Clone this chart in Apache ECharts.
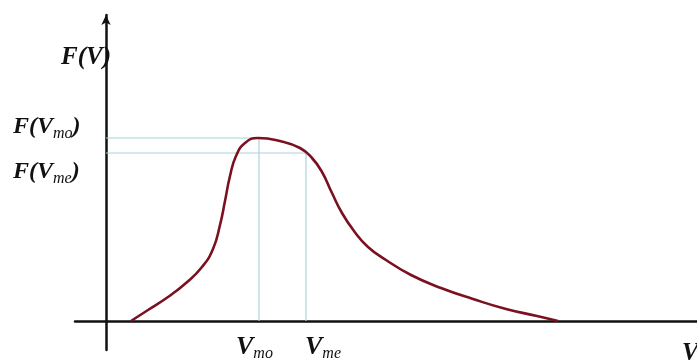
<!DOCTYPE html>
<html><head><meta charset="utf-8">
<script src="https://cdn.jsdelivr.net/npm/echarts@6/dist/echarts.min.js"></script>
<style>html,body{margin:0;padding:0;background:#fff}#c{width:697px;height:364px}</style>
</head><body><div id="c"></div>
<script>
// Curve V (offset units) and F(V)
const curveV = [25,42,62,80,96,107,114,119,124,130,139,152,174,194,206,216,226,236,248,262,280,305,335,367,400,431,452];
const curveF = [0,11,24,38,54,72,96,120,145,165,178,183,180,173,163,149,128,108,90,74,61,46,33,22,12,5,0];
const Vmo = 153, FVmo = 183;
const Vme = 200, FVme = 168;
const labels = {fv:'F(V)', fmo:'F(V{s|mo})', fme:'F(V{s|me})', vmo:'V{s|mo}', vme:'V{s|me}', v:'V'};

const chart = echarts.init(document.getElementById('c'));
const serif = '"Liberation Serif", "DejaVu Serif", serif';
const rich = {s:{fontFamily:serif, fontStyle:'italic', fontSize:16, fill:'#111', padding:[13,0,0,0]}};
function txt(text, x, y, align, size){
  return {type:'text', x:x, y:y, z:100, style:{text:text, fontFamily:serif, fontStyle:'italic', fontWeight:'bold', fontSize:size||24, fill:'#111', align:align||'left', verticalAlign:'middle', rich:rich}};
}
chart.setOption({
  animation:false,
  grid:{left:75, top:15, width:622, height:335, containLabel:false},
  xAxis:{type:'value', min:-31, max:591, splitLine:{show:false}, axisTick:{show:false}, axisLabel:{show:false},
    axisLine:{onZero:true, lineStyle:{color:'#111', width:2.5}}},
  yAxis:{type:'value', min:-29, max:306, splitLine:{show:false}, axisTick:{show:false}, axisLabel:{show:false},
    axisLine:{onZero:true, symbol:['none','arrow'], symbolSize:[7,10], symbolOffset:[0,0], lineStyle:{color:'#111', width:2.5}}},
  series:[
    {type:'line', data:[[0,FVmo],[Vmo,FVmo],[Vmo,0]], symbol:'none', lineStyle:{color:'#a9d3da', width:1.2}, z:1},
    {type:'line', data:[[0,FVme],[Vme,FVme],[Vme,0]], symbol:'none', lineStyle:{color:'#a9d3da', width:1.2}, z:1},
    {type:'line', data:curveV.map((v,i)=>[v,curveF[i]]), smooth:0.5, symbol:'none', lineStyle:{color:'#7a1020', width:2.6}, z:3}
  ],
  graphic:[
    txt(labels.fv, 111, 58, 'right', 25),
    txt(labels.fmo, 13, 127, 'left', 24),
    txt(labels.fme, 13, 172, 'left', 24),
    txt(labels.vmo, 236, 347, 'left', 26),
    txt(labels.vme, 305, 347, 'left', 26),
    txt(labels.v, 682, 354, 'left', 25)
  ]
});
</script></body></html>
